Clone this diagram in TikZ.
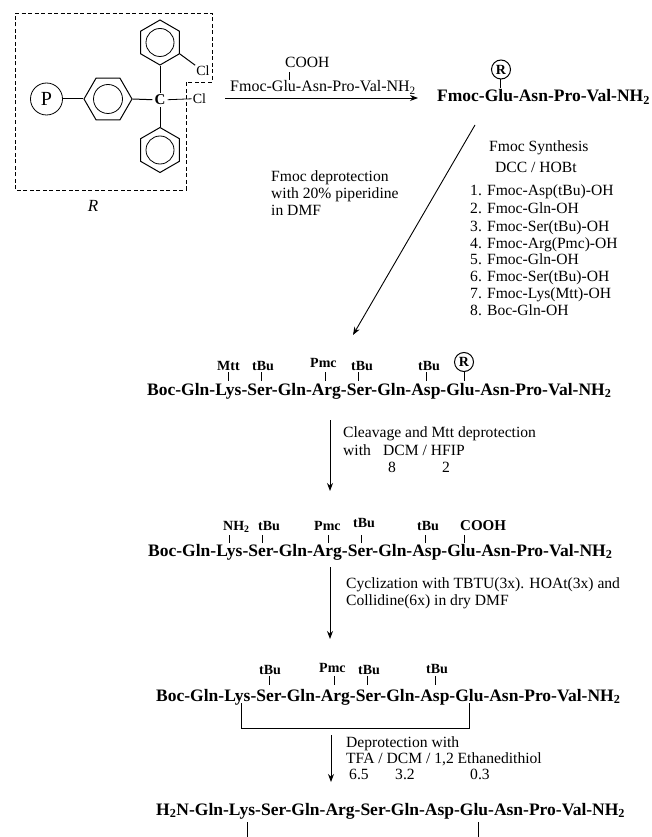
\documentclass[tikz,border=0pt]{standalone}
\usepackage{fontspec}
\setmainfont{Liberation Serif}
\usetikzlibrary{shapes.geometric,arrows.meta}
\newcommand{\subtwo}{\textsubscript{2}}
\newcommand{\peptide}[1]{#1-Gln-Lys-Ser-Gln-Arg-Ser-Gln-Asp-Glu-Asn-Pro-Val-NH\subtwo}
\newcommand{\bondv}[4]{\coordinate (#1a) at (#2,#3); \coordinate (#1b) at (#2,#4); \draw[bondline] (#1a) -- (#1b);}
\tikzset{
  txt/.style={anchor=base west,inner sep=0pt,font=\fontsize{15.6}{18}\selectfont},
  pep/.style={anchor=base west,inner sep=0pt,font=\fontsize{17.5}{20}\selectfont\bfseries},
  grp/.style={anchor=base west,inner sep=0pt,font=\fontsize{14}{16}\selectfont\bfseries},
  bondline/.style={line width=0.8pt},
  ringline/.style={line width=1pt},
  rxn/.style={line width=0.9pt,-{Stealth[length=8pt,width=6pt]}},
  hexa/.style={draw,ringline,regular polygon,regular polygon sides=6,minimum size=#1,inner sep=0pt},
  inner/.style={draw,line width=0.8pt,circle,minimum size=#1,inner sep=0pt},
  rcirc/.style={draw,line width=1pt,circle,minimum size=19pt,inner sep=0pt,font=\fontsize{14}{16}\selectfont\bfseries},
}
\begin{document}
\begin{tikzpicture}[x=1pt,y=-1pt]
\useasboundingbox (0,0) rectangle (652,837);
% resin
\coordinate (d1) at (15,13); \coordinate (d2) at (212,13); \coordinate (d3) at (212,82);
\coordinate (d4) at (186,82); \coordinate (d5) at (186,190); \coordinate (d6) at (15,190);
\draw[line width=0.7pt,dash pattern=on 4pt off 2.5pt] (d1) -- (d2) -- (d3) -- (d4) -- (d5) -- (d6) -- cycle;
\node[draw,circle,line width=0.8pt,minimum size=32pt,inner sep=0pt,font=\fontsize{20}{22}\selectfont] (P) at (46.5,99) {P};
\node[hexa=48pt] (rl) at (108,99) {};
\node[inner=29pt] at (108,99) {};
\node[hexa=45pt,shape border rotate=30] (rt) at (160,42.5) {};
\node[inner=28pt] at (160,42.5) {};
\node[hexa=45pt,shape border rotate=30] (rb) at (160,150) {};
\node[inner=28pt] at (160,150) {};
\node[inner sep=2pt,font=\fontsize{15}{17}\selectfont\bfseries] (C) at (160,100) {C};
\node[inner sep=1pt,font=\fontsize{14}{16}\selectfont] (cl1) at (203,71) {Cl};
\node[inner sep=1pt,font=\fontsize{14}{16}\selectfont] (cl2) at (199.5,98.5) {Cl};
\draw[ringline] (P) -- (rl.corner 3);
\draw[ringline] (rl.corner 6) -- (C);
\draw[ringline] (C) -- (rt.corner 4);
\draw[ringline] (C) -- (rb.corner 1);
\draw[bondline] (C) -- (cl2);
\draw[ringline] (rt.corner 5) -- (cl1);
\node[anchor=center,inner sep=0pt,font=\fontsize{17}{19}\selectfont\itshape] (Rlab) at (93,205.5) {R};
% first step
\node[txt] (cooh0) at (285,68) {COOH};
\node[txt,font=\fontsize{16}{18}\selectfont] (fm0) at (230,92) {Fmoc-Glu-Asn-Pro-Val-NH\subtwo};
\bondv{b0}{289}{72}{80}
\coordinate (a0s) at (225,98); \coordinate (a0e) at (418,98);
\draw[rxn] (a0s) -- (a0e);
\node[pep] (row0) at (437,102) {Fmoc-Glu-Asn-Pro-Val-NH\subtwo};
\node[rcirc] (r0) at (501,69.5) {R};
\bondv{b1}{500}{79}{88}
\coordinate (a1s) at (475,125); \coordinate (a1e) at (353,335);
\draw[rxn] (a1s) -- (a1e);
\node[txt] at (489,152) {Fmoc Synthesis};
\node[txt] at (495,172) {DCC / HOBt};
\node[txt] at (470,195) {1. Fmoc-Asp(tBu)-OH};
\node[txt] at (470,213) {2. Fmoc-Gln-OH};
\node[txt] at (470,231) {3. Fmoc-Ser(tBu)-OH};
\node[txt] at (470,248) {4. Fmoc-Arg(Pmc)-OH};
\node[txt] at (470,264) {5. Fmoc-Gln-OH};
\node[txt] at (470,281) {6. Fmoc-Ser(tBu)-OH};
\node[txt] at (470,298) {7. Fmoc-Lys(Mtt)-OH};
\node[txt] at (470,315) {8. Boc-Gln-OH};
\node[txt] at (271,182) {Fmoc deprotection};
\node[txt] at (271,198) {with 20\% piperidine};
\node[txt] at (271,215) {in DMF};
% row 1
\node[pep] (row1) at (147,395) {\peptide{Boc}};
\node[grp] at (217,370) {Mtt};
\node[grp] at (252,370) {tBu};
\node[grp] at (310,367) {Pmc};
\node[grp] at (351,370) {tBu};
\node[grp] at (418,370) {tBu};
\node[rcirc] (r1) at (464,362) {R};
\bondv{c1}{228}{372}{381}
\bondv{c2}{261}{372}{381}
\bondv{c3}{325}{372}{381}
\bondv{c4}{358}{372}{381}
\bondv{c5}{426}{372}{381}
\bondv{c6}{464}{372}{381}
\coordinate (a2s) at (330,420); \coordinate (a2e) at (330,491);
\draw[rxn] (a2s) -- (a2e);
\node[txt] at (343,437) {Cleavage and Mtt deprotection};
\node[txt] at (343,455) {with};
\node[txt] at (383,455) {DCM / HFIP};
\node[txt] at (388,472) {8};
\node[txt] at (442,472) {2};
% row 2
\node[pep] (row2) at (148,556) {\peptide{Boc}};
\node[grp] at (223,530) {NH\subtwo};
\node[grp] at (258,530) {tBu};
\node[grp] at (314,530) {Pmc};
\node[grp] at (353,527) {tBu};
\node[grp] at (417,530) {tBu};
\node[grp,font=\fontsize{15}{17}\selectfont\bfseries] at (460,530) {COOH};
\bondv{e1}{229}{535}{543}
\bondv{e2}{262}{535}{543}
\bondv{e3}{328}{535}{543}
\bondv{e4}{361}{535}{543}
\bondv{e5}{425}{535}{543}
\bondv{e6}{464}{535}{543}
\coordinate (a3s) at (330,567); \coordinate (a3e) at (330,639);
\draw[rxn] (a3s) -- (a3e);
\node[txt] at (346,588) {Cyclization with TBTU(3x). HOAt(3x) and};
\node[txt] at (346,605) {Collidine(6x) in dry DMF};
% row 3
\node[pep] (row3) at (156,701) {\peptide{Boc}};
\node[grp] at (259,674) {tBu};
\node[grp] at (319,672) {Pmc};
\node[grp] at (358,674) {tBu};
\node[grp] at (426,673) {tBu};
\bondv{f1}{269}{676}{685}
\bondv{f2}{334}{676}{685}
\bondv{f3}{367}{676}{685}
\bondv{f4}{435}{676}{685}
\coordinate (g1) at (241.5,703); \coordinate (g2) at (241.5,728.5);
\coordinate (g3) at (469,728.5); \coordinate (g4) at (469,703);
\draw[line width=1pt] (g1) -- (g2) -- (g3) -- (g4);
\coordinate (a4s) at (331,735); \coordinate (a4e) at (331,782);
\draw[rxn] (a4s) -- (a4e);
\node[txt] at (346,747) {Deprotection with};
\node[txt] at (346,763) {TFA / DCM / 1,2 Ethanedithiol};
\node[txt] at (349,779) {6.5};
\node[txt] at (395,779) {3.2};
\node[txt] at (470,779) {0.3};
% row 4
\node[pep] (row4) at (156,815) {H\subtwo N-Gln-Lys-Ser-Gln-Arg-Ser-Gln-Asp-Glu-Asn-Pro-Val-NH\subtwo};
\bondv{h1}{247}{822}{837}
\bondv{h2}{478.5}{822}{837}
\end{tikzpicture}
\end{document}
